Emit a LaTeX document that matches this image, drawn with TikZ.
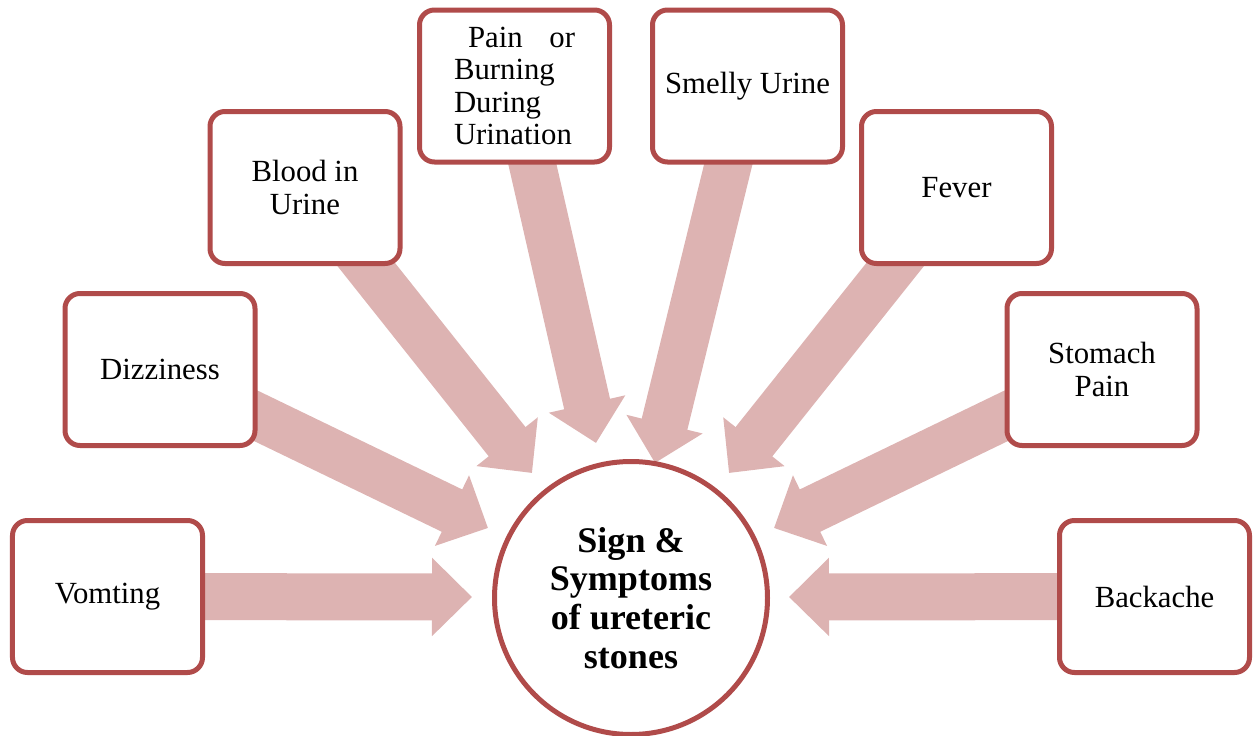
\documentclass[tikz,border=0pt]{standalone}
\usepackage{fontspec}
\setmainfont{Liberation Serif}
\usetikzlibrary{arrows.meta,backgrounds}
\definecolor{boxred}{RGB}{176,75,74}
\definecolor{arrowpink}{RGB}{221,179,178}
\tikzset{
	symptom/.style={draw=boxred, line width=0.1cm, rounded corners=0.3cm, fill=white, minimum width=3.8cm, minimum height=3.04cm, align=center, font=\fontsize{17.5}{18.5}\selectfont},
	bigarrow/.style={draw=arrowpink, line width=0.94cm, -{Triangle[width=1.52cm, length=0.8cm]}}
}
\begin{document}
\begin{tikzpicture}
	\useasboundingbox (0,0) rectangle (25.1,-14.72);
	\node[symptom] (vom) at (2.15,-11.93) {Vomting};
	\node[symptom] (diz) at (3.20,-7.39) {Dizziness};
	\node[symptom] (blood) at (6.10,-3.75) {Blood in\\Urine};
	\node[symptom, text width=2.42cm, align=left] (pain) at (10.29,-1.72) {\hspace*{0.28cm}Pain\hfill or\\Burning\\During\\Urination};
	\node[symptom] (smelly) at (14.95,-1.72) {Smelly Urine};
	\node[symptom] (fever) at (19.13,-3.75) {Fever};
	\node[symptom] (stomach) at (22.04,-7.39) {Stomach\\Pain};
	\node[symptom] (back) at (23.09,-11.93) {Backache};
	\node[draw=boxred, line width=0.1cm, circle, fill=white, minimum size=5.46cm, align=center, font=\fontsize{20.5}{22}\selectfont\bfseries] (stones) at (12.62,-11.96) {Sign \&\\Symptoms\\of ureteric\\stones};
	\coordinate (tvom) at (9.44,-11.94);
	\coordinate (tdiz) at (9.76,-10.56);
	\coordinate (tblood) at (10.64,-9.46);
	\coordinate (tpain) at (11.92,-8.86);
	\coordinate (tsmelly) at (13.10,-9.26);
	\coordinate (tfever) at (14.58,-9.46);
	\coordinate (tstomach) at (15.48,-10.56);
	\coordinate (tback) at (15.78,-11.94);
	\begin{scope}[on background layer]
		\draw[bigarrow] (vom.center) -- (tvom);
		\draw[bigarrow] (diz.center) -- (tdiz);
		\draw[bigarrow] (blood.center) -- (tblood);
		\draw[bigarrow] (pain.center) -- (tpain);
		\draw[bigarrow] (smelly.center) -- (tsmelly);
		\draw[bigarrow] (fever.center) -- (tfever);
		\draw[bigarrow] (stomach.center) -- (tstomach);
		\draw[bigarrow] (back.center) -- (tback);
	\end{scope}
\end{tikzpicture}
\end{document}
